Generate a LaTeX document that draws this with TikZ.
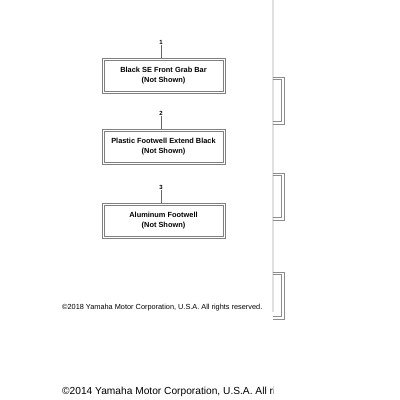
\documentclass[tikz,border=0pt]{standalone}
\usepackage{fontspec}
\setmainfont{Liberation Sans}
\begin{document}
\begin{tikzpicture}[x=1pt,y=-1pt,
  partbox/.style={draw=black!50,line width=0.7pt,
    minimum width=123pt,minimum height=35pt,align=center,inner sep=0pt,
    font=\fontsize{7.4}{10}\selectfont\bfseries},
  innerbox/.style={draw=black!50,line width=0.7pt},
  callout/.style={font=\fontsize{6}{6}\selectfont\bfseries,inner sep=0.5pt},
  link/.style={draw=black!60,line width=0.6pt},
  brkline/.style={draw=black!45,line width=0.7pt}]
\useasboundingbox (0,0) rectangle (400,400);
\fill[white] (0,0) rectangle (400,400);
% boxes
\node[partbox] (b1) at (163.5,75.5) {Black SE Front Grab Bar\\(Not Shown)};
\node[partbox] (b2) at (163.5,146.5) {Plastic Footwell Extend Black\\(Not Shown)};
\node[partbox] (b3) at (163.5,221) {Aluminum Footwell\\(Not Shown)};
\foreach \b in {b1,b2,b3}{
  \draw[innerbox] ([shift={(2.2,2.2)}]\b.north west) rectangle ([shift={(-2.2,-2.2)}]\b.south east);
}
\node[callout] (n1) at (161,42) {1};
\node[callout] (n2) at (161,113) {2};
\node[callout] (n3) at (161,187) {3};
\draw[link] (n1.south) -- (n1.south|-b1.north);
\draw[link] (n2.south) -- (n2.south|-b2.north);
\draw[link] (n3.south) -- (n3.south|-b3.north);
% right margin
\draw[black!12,line width=1.2pt] (273,0) -- (273,312);
\foreach \t/\bt in {77/124,173/220,272/319}{
  \draw[brkline] (273,\t) -- (284,\t) -- (284,\bt) -- (273,\bt);
  \draw[brkline] (273,\t+2.2) -- (281.8,\t+2.2) -- (281.8,\bt-2.2) -- (273,\bt-2.2);
}
% copyright
\node[anchor=west,inner sep=0pt,font=\fontsize{7.35}{8}\selectfont] (c1) at (62,307.5) {©2018 Yamaha Motor Corporation, U.S.A. All rights reserved.};
\begin{scope}
\clip (0,375) rectangle (273,400);
\node[anchor=west,inner sep=0pt,font=\fontsize{10.2}{11}\selectfont] (c2) at (62,392) {©2014 Yamaha Motor Corporation, U.S.A. All rights reserved.};
\end{scope}
\end{tikzpicture}
\end{document}
